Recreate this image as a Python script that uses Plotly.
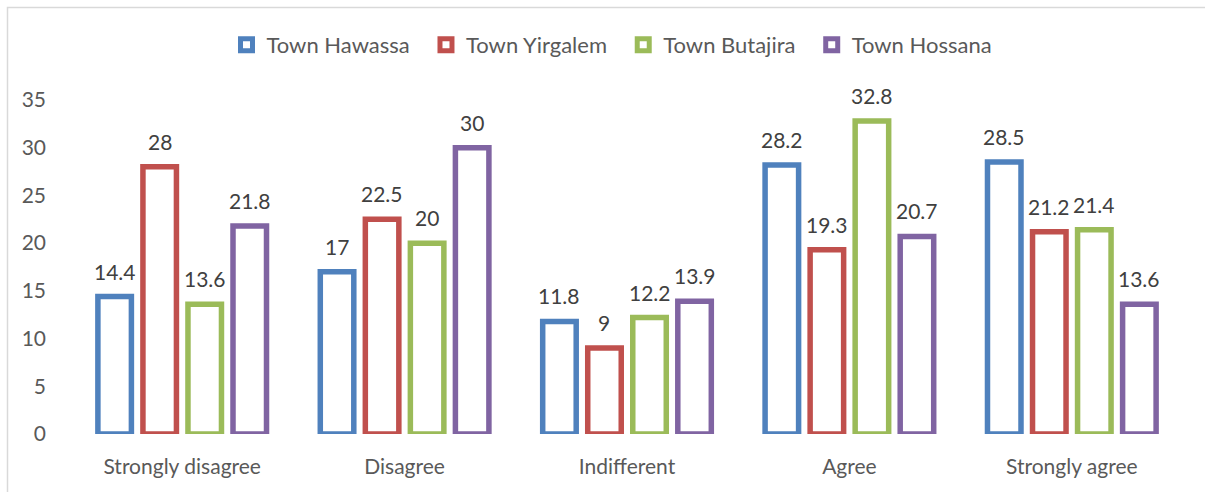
import plotly.graph_objects as go

categories = ["Strongly disagree", "Disagree", "Indifferent", "Agree", "Strongly agree"]
series_names = ["Town Hawassa", "Town Yirgalem", "Town Butajira", "Town Hossana"]
hawassa = [14.4, 17, 11.8, 28.2, 28.5]
yirgalem = [28, 22.5, 9, 19.3, 21.2]
butajira = [13.6, 20, 12.2, 32.8, 21.4]
hossana = [21.8, 30, 13.9, 20.7, 13.6]
colors = ["#4F81BD", "#C0504D", "#9BBB59", "#8064A2"]
y_ticks = [0, 5, 10, 15, 20, 25, 30, 35]

FONT = "Lato, 'Open Sans', sans-serif"
W, H = 1205, 492
ML, MR, MT, MB = 71, 22, 100, 58
BARGAP = 0.19
plot_w = W - ML - MR
plot_h = H - MT - MB
slot = plot_w / len(categories) * (1 - BARGAP) / len(series_names)

fig = go.Figure()
annotations = []
all_vals = [hawassa, yirgalem, butajira, hossana]
for i, (name, vals, col) in enumerate(zip(series_names, all_vals, colors)):
    fig.add_trace(go.Bar(
        name=name + "\u00a0\u00a0", x=categories, y=vals,
        marker=dict(color="white", line=dict(color=col, width=5.5)),
    ))
    for c, v in zip(categories, vals):
        annotations.append(dict(
            x=c, y=v, xref="x", yref="y", text=f"{v:g}", showarrow=False,
            xshift=(i - (len(series_names) - 1) / 2) * slot, yshift=11,
            yanchor="bottom", font=dict(size=21, color="#404040", family=FONT),
        ))

fig.update_layout(
    width=W, height=H,
    barmode="group", bargap=BARGAP, bargroupgap=0.256,
    paper_bgcolor="white", plot_bgcolor="white",
    margin=dict(l=ML, r=MR, t=MT, b=MB, autoexpand=False),
    font=dict(family=FONT, color="#595959"),
    showlegend=True,
    legend=dict(orientation="h", x=0.5 + 15 / W, xanchor="center", xref="container",
                y=1 - 45 / H, yanchor="middle", yref="container",
                bgcolor="rgba(0,0,0,0)",
                font=dict(size=22, color="#595959", family=FONT),
                traceorder="normal"),
    xaxis=dict(showline=False, ticks="", tickfont=dict(size=21, color="#595959"),
               showgrid=False, ticklabelstandoff=18),
    yaxis=dict(range=[0, 35], tickvals=y_ticks, showgrid=False, zeroline=False, showline=False,
               tickfont=dict(size=21, color="#595959"), ticklabelstandoff=24),
    annotations=annotations,
    shapes=[dict(type="rect", xref="paper", yref="paper",
                 x0=-(ML - 7.5) / plot_w, x1=1 + (MR + 20) / plot_w,
                 y0=-(MB + 20) / plot_h, y1=1 + (MT - 7.5) / plot_h,
                 line=dict(color="#D9D9D9", width=1.5), fillcolor="rgba(0,0,0,0)", layer="below")],
)

fig.write_html("out.html", config={"displayModeBar": False},
               post_script="document.body.style.margin='0';document.body.style.overflow='hidden';")
